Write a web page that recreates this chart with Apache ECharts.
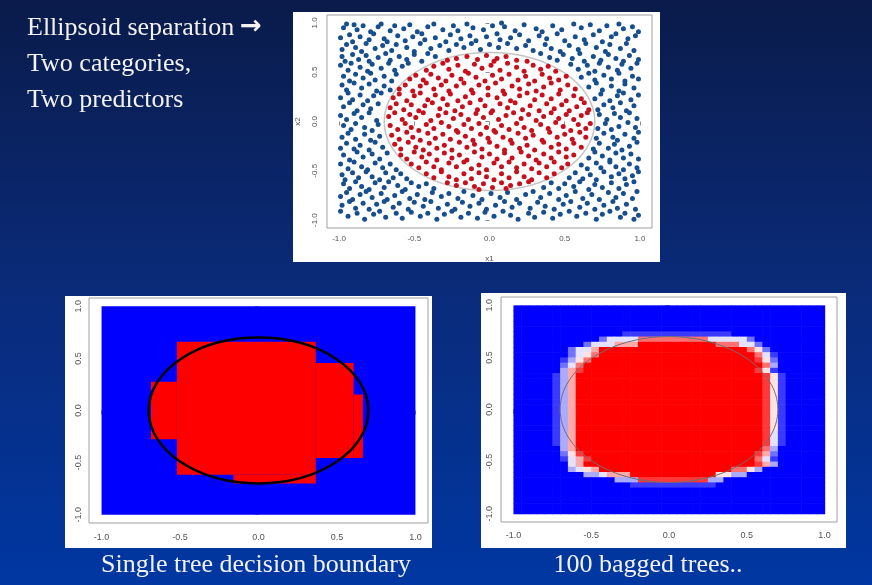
<!DOCTYPE html>
<html>
<head>
<meta charset="utf-8">
<script src="https://cdn.jsdelivr.net/npm/echarts@6/dist/echarts.min.js"></script>
<style>
html, body { margin: 0; padding: 0; background: #0a2a78; }
#chart { width: 872px; height: 585px; }
</style>
</head>
<body>
<div id="chart"></div>
<script>
// tick labels shared by all three panels
const tickValues = [-1, -0.5, 0, 0.5, 1];

// scatter: points outside the ellipse (blue) and inside (red)
const blueDots = [
  [-0.97,0.95],[-0.95,0.99],[-0.90,0.98],[-0.88,0.93],[-0.84,0.97],[-0.79,0.91],[-0.74,0.96],[-0.72,0.99],[-0.66,0.92],[-0.63,0.97],
  [-0.57,0.94],[-0.53,0.98],[-0.48,0.91],[-0.41,0.96],[-0.37,0.99],[-0.31,0.93],[-0.24,0.97],[-0.21,0.92],[-0.15,0.99],[-0.11,0.95],
  [-0.04,0.93],[0.02,0.97],[0.08,1.0],[0.10,0.96],[0.17,0.92],[0.23,0.98],[0.31,0.94],[0.35,0.91],[0.42,0.97],[0.48,0.93],
  [0.56,0.99],[0.61,0.95],[0.67,0.98],[0.73,0.92],[0.78,0.97],[0.86,0.99],[0.89,0.94],[0.95,0.96],[0.99,0.91],
  [-0.99,0.85],[-0.93,0.88],[-0.91,0.81],[-0.86,0.86],[-0.80,0.83],[-0.77,0.89],[-0.70,0.84],[-0.68,0.81],[-0.61,0.87],[-0.56,0.82],
  [-0.51,0.86],[-0.45,0.89],[-0.43,0.83],[-0.36,0.85],[-0.29,0.81],[-0.26,0.88],[-0.19,0.84],[-0.13,0.87],[-0.09,0.82],[-0.02,0.86],
  [0.05,0.89],[0.07,0.83],[0.14,0.85],[0.20,0.88],[0.26,0.82],[0.33,0.87],[0.38,0.84],[0.45,0.89],[0.50,0.82],[0.57,0.86],
  [0.63,0.83],[0.69,0.88],[0.75,0.81],[0.81,0.86],[0.84,0.89],[0.92,0.84],[0.97,0.87],
  [-0.98,0.73],[-0.95,0.78],[-0.89,0.75],[-0.85,0.71],[-0.82,0.79],[-0.76,0.74],[-0.71,0.77],[-0.65,0.72],[-0.62,0.78],[-0.55,0.75],
  [-0.50,0.71],[-0.46,0.79],[-0.39,0.74],[-0.33,0.77],[-0.27,0.72],[-0.22,0.78],[-0.17,0.75],[-0.12,0.79],[-0.06,0.73],[0.0,0.78],
  [0.06,0.75],[0.12,0.79],[0.18,0.74],[0.24,0.77],[0.29,0.72],[0.37,0.78],[0.41,0.74],[0.47,0.71],[0.53,0.77],[0.59,0.73],
  [0.64,0.79],[0.71,0.75],[0.77,0.71],[0.80,0.78],[0.87,0.74],[0.91,0.79],[0.96,0.72],
  [-0.98,0.66],[-0.96,0.61],[-0.91,0.68],[-0.87,0.63],[-0.82,0.67],[-0.80,0.61],[-0.74,0.65],[-0.69,0.69],[-0.66,0.62],[-0.60,0.66],
  [-0.55,0.63],[-0.50,0.68],[-0.45,0.61],[-0.41,0.69],[-0.36,0.66],[0.34,0.69],[0.40,0.65],[0.45,0.62],[0.49,0.68],[0.55,0.64],
  [0.60,0.69],[0.63,0.61],[0.69,0.66],[0.74,0.62],[0.79,0.68],[0.84,0.64],[0.89,0.61],[0.93,0.67],[0.99,0.63],
  [-0.99,0.57],[-0.94,0.52],[-0.92,0.59],[-0.86,0.55],[-0.81,0.51],[-0.78,0.58],[-0.72,0.54],[-0.67,0.59],[-0.63,0.52],[-0.58,0.56],
  [-0.54,0.59],[0.54,0.58],[0.59,0.53],[0.65,0.57],[0.70,0.51],[0.73,0.59],[0.79,0.55],[0.85,0.52],[0.88,0.58],[0.94,0.54],[0.98,0.59],
  [-0.97,0.46],[-0.93,0.41],[-0.89,0.48],[-0.84,0.44],[-0.79,0.49],[-0.76,0.42],[-0.70,0.46],[-0.65,0.41],[-0.62,0.48],[0.61,0.45],
  [0.66,0.49],[0.70,0.42],[0.76,0.47],[0.81,0.43],[0.86,0.49],[0.90,0.41],[0.95,0.46],[0.99,0.43],
  [-0.98,0.37],[-0.95,0.32],[-0.90,0.39],[-0.85,0.34],[-0.80,0.38],[-0.75,0.31],[-0.70,0.36],[-0.66,0.32],[0.66,0.35],[0.71,0.39],
  [0.75,0.32],[0.81,0.36],[0.86,0.31],[0.90,0.38],[0.96,0.34],
  [-0.99,0.24],[-0.94,0.29],[-0.91,0.22],[-0.86,0.27],[-0.81,0.21],[-0.77,0.26],[-0.72,0.29],[0.70,0.23],[0.74,0.28],[0.80,0.21],
  [0.85,0.26],[0.89,0.29],[0.94,0.22],[0.99,0.27],
  [-0.97,0.15],[-0.93,0.19],[-0.88,0.11],[-0.84,0.17],[-0.79,0.13],[-0.74,0.18],[0.72,0.12],[0.76,0.17],[0.82,0.14],[0.87,0.19],
  [0.91,0.11],[0.96,0.16],
  [-0.99,0.06],[-0.95,0.02],[-0.90,0.08],[-0.85,0.04],[-0.80,0.09],[-0.75,0.01],[0.73,0.07],[0.78,0.02],[0.83,0.08],[0.87,0.04],
  [0.93,0.09],[0.98,0.03],
  [-0.97,-0.04],[-0.92,-0.08],[-0.89,-0.02],[-0.83,-0.06],[-0.78,-0.09],[-0.74,-0.03],[0.72,-0.07],[0.77,-0.02],[0.81,-0.08],[0.86,-0.05],
  [0.92,-0.01],[0.97,-0.06],
  [-0.98,-0.16],[-0.94,-0.12],[-0.89,-0.18],[-0.83,-0.13],[-0.79,-0.19],[-0.73,-0.15],[0.71,-0.17],[0.76,-0.12],[0.82,-0.16],[0.85,-0.19],
  [0.90,-0.13],[0.96,-0.17],[0.99,-0.11],
  [-0.99,-0.27],[-0.95,-0.22],[-0.90,-0.28],[-0.86,-0.24],[-0.80,-0.29],[-0.76,-0.21],[-0.71,-0.26],[0.69,-0.28],[0.73,-0.22],[0.79,-0.27],
  [0.83,-0.23],[0.88,-0.29],[0.93,-0.25],[0.98,-0.21],
  [-0.97,-0.34],[-0.93,-0.39],[-0.88,-0.31],[-0.84,-0.36],[-0.78,-0.33],[-0.73,-0.38],[-0.68,-0.32],[0.66,-0.37],[0.70,-0.31],[0.75,-0.35],
  [0.80,-0.39],[0.84,-0.32],[0.89,-0.37],[0.94,-0.33],[0.99,-0.38],
  [-0.99,-0.43],[-0.94,-0.48],[-0.90,-0.41],[-0.85,-0.46],[-0.81,-0.49],[-0.76,-0.42],[-0.71,-0.47],[-0.66,-0.43],[-0.62,-0.49],[0.61,-0.44],
  [0.65,-0.48],[0.71,-0.42],[0.74,-0.47],[0.80,-0.41],[0.84,-0.46],[0.89,-0.49],[0.93,-0.43],[0.98,-0.47],
  [-0.98,-0.54],[-0.96,-0.59],[-0.91,-0.52],[-0.87,-0.57],[-0.82,-0.51],[-0.78,-0.56],[-0.73,-0.59],[-0.69,-0.52],[-0.64,-0.57],[-0.59,-0.53],
  [-0.55,-0.58],[0.53,-0.57],[0.57,-0.52],[0.62,-0.58],[0.67,-0.54],[0.71,-0.59],[0.76,-0.51],[0.81,-0.56],[0.86,-0.53],[0.90,-0.58],
  [0.95,-0.55],[0.99,-0.51],
  [-0.97,-0.63],[-0.93,-0.68],[-0.89,-0.61],[-0.85,-0.66],[-0.80,-0.69],[-0.76,-0.62],[-0.70,-0.67],[-0.67,-0.61],[-0.61,-0.65],[-0.56,-0.69],
  [-0.52,-0.62],[-0.47,-0.66],[-0.42,-0.63],[-0.37,-0.68],[0.36,-0.67],[0.41,-0.62],[0.46,-0.68],[0.50,-0.63],[0.56,-0.66],[0.60,-0.61],
  [0.66,-0.69],[0.70,-0.64],[0.75,-0.67],[0.81,-0.62],[0.86,-0.68],[0.91,-0.64],[0.96,-0.61],
  [-0.99,-0.76],[-0.95,-0.72],[-0.91,-0.79],[-0.86,-0.74],[-0.82,-0.71],[-0.78,-0.77],[-0.72,-0.73],[-0.68,-0.79],[-0.63,-0.75],[-0.58,-0.71],
  [-0.53,-0.78],[-0.48,-0.74],[-0.43,-0.79],[-0.38,-0.72],[-0.32,-0.76],[-0.27,-0.73],[-0.21,-0.78],[-0.17,-0.71],[-0.11,-0.75],[-0.05,-0.79],
  [0.01,-0.73],[0.07,-0.77],[0.12,-0.72],[0.18,-0.79],[0.24,-0.74],[0.29,-0.71],[0.34,-0.77],[0.40,-0.73],[0.46,-0.79],[0.51,-0.75],
  [0.57,-0.71],[0.62,-0.78],[0.68,-0.74],[0.73,-0.79],[0.79,-0.72],[0.84,-0.77],[0.89,-0.73],[0.95,-0.78],[0.98,-0.71],
  [-0.98,-0.85],[-0.93,-0.81],[-0.89,-0.88],[-0.84,-0.83],[-0.80,-0.89],[-0.75,-0.84],[-0.70,-0.81],[-0.64,-0.87],[-0.60,-0.83],[-0.54,-0.89],
  [-0.50,-0.82],[-0.44,-0.86],[-0.39,-0.81],[-0.34,-0.88],[-0.28,-0.84],[-0.23,-0.89],[-0.18,-0.82],[-0.13,-0.86],[-0.07,-0.83],[-0.02,-0.89],
  [0.04,-0.85],[0.10,-0.81],[0.15,-0.87],[0.20,-0.83],[0.27,-0.88],[0.32,-0.82],[0.37,-0.86],[0.43,-0.89],[0.49,-0.84],[0.54,-0.81],
  [0.60,-0.87],[0.65,-0.83],[0.70,-0.89],[0.76,-0.85],[0.82,-0.81],[0.85,-0.88],[0.91,-0.84],[0.97,-0.89],
  [-0.99,-0.91],[-0.94,-0.96],[-0.88,-0.93],[-0.83,-0.99],[-0.77,-0.94],[-0.73,-0.91],[-0.69,-0.97],[-0.62,-0.93],[-0.58,-0.98],[-0.52,-0.92],
  [-0.46,-0.96],[-0.41,-0.93],[-0.35,-0.99],[-0.30,-0.94],[-0.25,-0.91],[-0.19,-0.97],[-0.14,-0.93],[-0.08,-0.98],[-0.03,-0.92],[0.03,-0.96],
  [0.09,-0.91],[0.14,-0.95],[0.19,-0.99],[0.26,-0.93],[0.30,-0.97],[0.36,-0.92],[0.42,-0.98],[0.47,-0.94],[0.53,-0.91],[0.58,-0.96],
  [0.64,-0.93],[0.71,-0.99],[0.75,-0.94],[0.80,-0.91],[0.87,-0.97],[0.90,-0.93],[0.96,-0.99],[0.99,-0.95]
];
const redDots = [
  [-0.28,0.62],[-0.22,0.64],[-0.15,0.66],[-0.08,0.63],[-0.02,0.67],[0.05,0.64],[0.11,0.66],[0.18,0.62],[0.25,0.61],[0.03,0.61],
  [-0.42,0.52],[-0.37,0.56],[-0.31,0.59],[-0.27,0.53],[-0.21,0.57],[-0.16,0.51],[-0.10,0.58],[-0.05,0.54],[0.01,0.57],[0.07,0.52],
  [0.12,0.59],[0.18,0.55],[0.23,0.51],[0.29,0.57],[0.34,0.53],[0.39,0.56],[0.44,0.51],
  [-0.53,0.43],[-0.49,0.47],[-0.44,0.42],[-0.39,0.48],[-0.34,0.44],[-0.29,0.41],[-0.25,0.47],[-0.19,0.43],[-0.14,0.49],[-0.09,0.45],
  [-0.03,0.41],[0.02,0.47],[0.08,0.43],[0.13,0.48],[0.19,0.42],[0.24,0.46],[0.30,0.41],[0.35,0.48],[0.40,0.44],[0.46,0.42],[0.51,0.46],
  [-0.60,0.33],[-0.56,0.37],[-0.51,0.31],[-0.46,0.36],[-0.42,0.39],[-0.37,0.33],[-0.32,0.37],[-0.27,0.31],[-0.22,0.36],[-0.17,0.39],
  [-0.12,0.32],[-0.07,0.37],[-0.01,0.34],[0.04,0.39],[0.09,0.31],[0.15,0.36],[0.20,0.33],[0.26,0.38],[0.31,0.31],[0.36,0.35],
  [0.41,0.39],[0.47,0.32],[0.52,0.37],[0.57,0.33],
  [-0.64,0.24],[-0.60,0.28],[-0.55,0.21],[-0.50,0.26],[-0.46,0.29],[-0.41,0.22],[-0.36,0.27],[-0.31,0.23],[-0.26,0.28],[-0.21,0.21],
  [-0.16,0.25],[-0.11,0.29],[-0.06,0.22],[-0.01,0.27],[0.05,0.24],[0.10,0.28],[0.14,0.21],[0.20,0.26],[0.25,0.29],[0.30,0.22],
  [0.35,0.27],[0.41,0.23],[0.46,0.28],[0.51,0.21],[0.56,0.26],[0.61,0.23],
  [-0.66,0.14],[-0.62,0.18],[-0.57,0.12],[-0.52,0.17],[-0.47,0.11],[-0.43,0.16],[-0.38,0.19],[-0.33,0.13],[-0.28,0.17],[-0.23,0.11],
  [-0.18,0.15],[-0.13,0.19],[-0.08,0.12],[-0.03,0.16],[0.02,0.11],[0.07,0.18],[0.12,0.14],[0.17,0.19],[0.22,0.12],[0.27,0.16],
  [0.33,0.11],[0.38,0.18],[0.43,0.13],[0.48,0.17],[0.53,0.11],[0.58,0.15],[0.63,0.19],[0.66,0.12],
  [-0.67,0.05],[-0.63,0.09],[-0.58,0.02],[-0.53,0.07],[-0.49,0.04],[-0.44,0.09],[-0.39,0.01],[-0.34,0.06],[-0.29,0.09],[-0.24,0.03],
  [-0.19,0.07],[-0.14,0.02],[-0.09,0.08],[-0.04,0.04],[0.01,0.09],[0.06,0.02],[0.11,0.06],[0.16,0.09],[0.21,0.03],[0.26,0.07],
  [0.31,0.01],[0.36,0.05],[0.41,0.09],[0.46,0.03],[0.51,0.07],[0.56,0.02],[0.61,0.06],[0.65,0.09],
  [-0.66,-0.04],[-0.61,-0.08],[-0.56,-0.02],[-0.52,-0.06],[-0.47,-0.09],[-0.42,-0.03],[-0.37,-0.07],[-0.32,-0.01],[-0.27,-0.05],[-0.22,-0.09],
  [-0.17,-0.03],[-0.12,-0.07],[-0.07,-0.02],[-0.02,-0.06],[0.03,-0.09],[0.08,-0.04],[0.13,-0.08],[0.18,-0.02],[0.23,-0.06],[0.28,-0.09],
  [0.34,-0.03],[0.39,-0.07],[0.44,-0.01],[0.49,-0.05],[0.54,-0.09],[0.59,-0.03],[0.64,-0.07],[0.67,-0.02],
  [-0.65,-0.14],[-0.60,-0.18],[-0.55,-0.11],[-0.51,-0.16],[-0.46,-0.19],[-0.41,-0.12],[-0.36,-0.17],[-0.31,-0.13],[-0.26,-0.18],[-0.21,-0.11],
  [-0.16,-0.15],[-0.11,-0.19],[-0.06,-0.13],[-0.01,-0.17],[0.04,-0.11],[0.09,-0.16],[0.14,-0.19],[0.19,-0.12],[0.24,-0.17],[0.29,-0.14],
  [0.35,-0.19],[0.40,-0.11],[0.45,-0.16],[0.50,-0.13],[0.55,-0.18],[0.60,-0.11],[0.64,-0.16],
  [-0.63,-0.23],[-0.59,-0.28],[-0.54,-0.21],[-0.49,-0.26],[-0.44,-0.29],[-0.40,-0.22],[-0.35,-0.27],[-0.30,-0.24],[-0.25,-0.29],[-0.20,-0.21],
  [-0.15,-0.26],[-0.10,-0.23],[-0.05,-0.28],[0.0,-0.21],[0.05,-0.25],[0.10,-0.29],[0.15,-0.22],[0.20,-0.27],[0.25,-0.24],[0.30,-0.29],
  [0.36,-0.21],[0.41,-0.26],[0.46,-0.23],[0.51,-0.28],[0.56,-0.22],[0.61,-0.26],
  [-0.59,-0.34],[-0.55,-0.38],[-0.50,-0.31],[-0.45,-0.36],[-0.40,-0.33],[-0.35,-0.39],[-0.30,-0.32],[-0.25,-0.37],[-0.20,-0.34],[-0.15,-0.39],
  [-0.10,-0.31],[-0.05,-0.36],[0.0,-0.33],[0.05,-0.38],[0.10,-0.32],[0.15,-0.37],[0.21,-0.31],[0.26,-0.35],[0.31,-0.39],[0.36,-0.33],
  [0.41,-0.37],[0.46,-0.31],[0.51,-0.36],[0.56,-0.34],
  [-0.52,-0.43],[-0.47,-0.47],[-0.42,-0.41],[-0.37,-0.46],[-0.32,-0.49],[-0.27,-0.42],[-0.22,-0.46],[-0.17,-0.41],[-0.12,-0.48],[-0.07,-0.44],
  [-0.02,-0.49],[0.03,-0.42],[0.08,-0.46],[0.13,-0.41],[0.18,-0.47],[0.23,-0.43],[0.28,-0.48],[0.33,-0.42],[0.38,-0.46],[0.43,-0.41],
  [0.48,-0.47],[0.52,-0.43],
  [-0.42,-0.53],[-0.37,-0.57],[-0.32,-0.51],[-0.27,-0.56],[-0.22,-0.59],[-0.17,-0.53],[-0.12,-0.58],[-0.07,-0.52],[-0.02,-0.56],[0.03,-0.59],
  [0.08,-0.53],[0.13,-0.57],[0.18,-0.51],[0.23,-0.56],[0.28,-0.59],[0.33,-0.52],[0.38,-0.57],[0.43,-0.53],
  [-0.28,-0.62],[-0.22,-0.65],[-0.16,-0.62],[-0.10,-0.66],[-0.04,-0.63],[0.02,-0.67],[0.08,-0.62],[0.14,-0.65],[0.20,-0.63],[0.26,-0.61],
  [-0.07,-0.69],[0.11,-0.68]
];

// true class boundary: centre x, centre y, radius
const trueBoundary = [[0, 0, 0.7]];

// single tree: red leaf rectangles [x0, x1, y0, y1]
const treeAll = [[-1, 1, -1, 1]];
const treeRed = [
  [-0.52, 0.365, -0.617, 0.66],
  [-0.16, 0.365, -0.70, -0.617],
  [-0.685, -0.52, -0.276, 0.276],
  [0.365, 0.606, -0.455, 0.455],
  [0.606, 0.665, -0.455, 0.153]
];

// 100 bagged trees: red share per 0.05 cell, 0 = blue .. 9 = red, top row first
const bagStep = 0.05;
const bagRows = [
  "0000000000000000000000000000000000000000",
  "0000000000000000000000000000000000000000",
  "0000000000000000000000000000000000000000",
  "0000000000000000000000000000000000000000",
  "0000000000000000000000000000000000000000",
  "0000000000000011111111111111000000000000",
  "0000000000024444777777777444442000000000",
  "0000000002444666999999999977744200000000",
  "0000000244699999999999999999997520000000",
  "0000000245799999999999999999999741000000",
  "0000001357999999999999999999999852000000",
  "0000002479999999999999999999999973000000",
  "0000003689999999999999999999999851000000",
  "0000013699999999999999999999999985100000",
  "0000013699999999999999999999999985100000",
  "0000013699999999999999999999999985100000",
  "0000013699999999999999999999999985100000",
  "0000013699999999999999999999999985100000",
  "0000013699999999999999999999999985100000",
  "0000013699999999999999999999999985100000",
  "0000013699999999999999999999999985100000",
  "0000013699999999999999999999999985100000",
  "0000013699999999999999999999999985100000",
  "0000013699999999999999999999999985100000",
  "0000013699999999999999999999999984100000",
  "0000013699999999999999999999999984100000",
  "0000013699999999999999999999999984100000",
  "0000003699999999999999999999999973000000",
  "0000002589999999999999999999999862000000",
  "0000001468999999999999999999999741000000",
  "0000000469999999999999999999999863000000",
  "0000000345699999999999999999775300000000",
  "0000000003346669999999999955330000000000",
  "0000000000000333888888888330000000000000",
  "0000000000000001111111111100000000000000",
  "0000000000000000000000000000000000000000",
  "0000000000000000000000000000000000000000",
  "0000000000000000000000000000000000000000",
  "0000000000000000000000000000000000000000",
  "0000000000000000000000000000000000000000"
];
const bagCells = [];
bagRows.forEach((row, r) => {
  for (let c = 0; c < row.length; c++) {
    bagCells.push([-1 + bagStep / 2 + c * bagStep, 1 - bagStep / 2 - r * bagStep, +row[c]]);
  }
});

const chart = echarts.init(document.getElementById("chart"));

function xAxisOf(gi, fs, margin, name) {
  return {
    type: "value", gridIndex: gi, min: -1.08, max: 1.08,
    axisLine: { show: false },
    axisTick: { show: true, customValues: tickValues, length: 4, lineStyle: { color: "#8c8c8c" } },
    axisLabel: { customValues: tickValues, formatter: v => v.toFixed(1), fontSize: fs, color: "#555", fontFamily: "Liberation Sans", margin: margin },
    splitLine: { show: false },
    name: name, nameLocation: "middle", nameGap: 27,
    nameTextStyle: { fontSize: 8, color: "#555", fontFamily: "Liberation Sans" }
  };
}
function yAxisOf(gi, fs, margin, name) {
  const a = xAxisOf(gi, fs, margin, name);
  a.axisLabel.rotate = 90;
  a.nameRotate = 90;
  a.nameGap = 25;
  return a;
}

// rectangles from [x0, x1, y0, y1]
function boxItem(color) {
  return function (params, api) {
    const p0 = api.coord([api.value(0), api.value(3)]);
    const p1 = api.coord([api.value(1), api.value(2)]);
    return { type: "rect", shape: { x: p0[0], y: p0[1], width: p1[0] - p0[0], height: p1[1] - p0[1] }, style: { fill: color } };
  };
}
function ellipseItem(color, width) {
  return function (params, api) {
    const c = api.coord([api.value(0), api.value(1)]);
    const s = api.size([api.value(2), api.value(2)]);
    return { type: "ellipse", shape: { cx: c[0], cy: c[1], rx: s[0], ry: s[1] }, style: { fill: null, stroke: color, lineWidth: width } };
  };
}
function cellItem(params, api) {
  const c = api.coord([api.value(0), api.value(1)]);
  const s = api.size([bagStep, bagStep]);
  return { type: "rect", shape: { x: c[0] - s[0] / 2, y: c[1] - s[1] / 2, width: s[0] + 0.6, height: s[1] + 0.6 }, style: { fill: api.visual("color") } };
}

const serif = "Liberation Serif";
const ink = "#f2f2f2";
const option = {
  animation: false,
  graphic: [
    { type: "rect", z: -30, shape: { x: 0, y: 0, width: 872, height: 585 },
      style: { fill: { type: "linear", x: 0, y: 0, x2: 0, y2: 1, colorStops: [
        { offset: 0, color: "#0a1b4a" }, { offset: 0.5, color: "#0a2b7a" }, { offset: 1, color: "#0037a2" }] } } },
    { type: "rect", z: -20, shape: { x: 293, y: 12, width: 367, height: 250 }, style: { fill: "#fff" } },
    { type: "rect", z: -20, shape: { x: 65, y: 296, width: 367, height: 252 }, style: { fill: "#fff" } },
    { type: "rect", z: -20, shape: { x: 481, y: 293, width: 365, height: 255 }, style: { fill: "#fff" } },
    { type: "text", style: { text: "Ellipsoid separation", x: 27, y: 28, fill: ink, fontSize: 26, fontFamily: serif, textVerticalAlign: "middle" } },
    { type: "text", style: { text: "\u2192", x: 240, y: 27, fill: ink, fontSize: 26, fontWeight: "bold", fontFamily: "DejaVu Sans", textVerticalAlign: "middle" } },
    { type: "text", style: { text: "Two categories,", x: 27, y: 64, fill: ink, fontSize: 26, fontFamily: serif, textVerticalAlign: "middle" } },
    { type: "text", style: { text: "Two predictors", x: 27, y: 100, fill: ink, fontSize: 26, fontFamily: serif, textVerticalAlign: "middle" } },
    { type: "text", style: { text: "Single tree decision boundary", x: 256, y: 565, fill: ink, fontSize: 26, fontFamily: serif, textAlign: "center", textVerticalAlign: "middle" } },
    { type: "text", style: { text: "100 bagged trees..", x: 648, y: 565, fill: ink, fontSize: 26, fontFamily: serif, textAlign: "center", textVerticalAlign: "middle" } }
  ],
  grid: [
    { left: 327, top: 15, width: 325, height: 213, show: true, borderColor: "#a0a0a0", borderWidth: 1 },
    { left: 89, top: 298, width: 339, height: 225, show: true, borderColor: "#a0a0a0", borderWidth: 1 },
    { left: 501, top: 297, width: 336, height: 225, show: true, borderColor: "#a0a0a0", borderWidth: 1 }
  ],
  xAxis: [xAxisOf(0, 8, 7, "x1"), xAxisOf(1, 9, 10, ""), xAxisOf(2, 9, 9, "")],
  yAxis: [yAxisOf(0, 8, 8, "x2"), yAxisOf(1, 9, 6, ""), yAxisOf(2, 9, 7, "")],
  visualMap: {
    type: "continuous", show: false, seriesIndex: 6, dimension: 2, min: 0, max: 9,
    inRange: { color: ["#0000ff", "#ffffff", "#ff0000"] }
  },
  series: [
    { type: "scatter", xAxisIndex: 0, yAxisIndex: 0, data: blueDots, symbolSize: 5, itemStyle: { color: "#174f8e", opacity: 1 } },
    { type: "scatter", xAxisIndex: 0, yAxisIndex: 0, data: redDots, symbolSize: 5, itemStyle: { color: "#c8101c", opacity: 1 } },
    { type: "custom", xAxisIndex: 0, yAxisIndex: 0, data: trueBoundary, renderItem: ellipseItem("#c4c4c4", 1.5), z: 1 },
    { type: "custom", xAxisIndex: 1, yAxisIndex: 1, data: treeAll, renderItem: boxItem("#0000ff") },
    { type: "custom", xAxisIndex: 1, yAxisIndex: 1, data: treeRed, renderItem: boxItem("#ff0000") },
    { type: "custom", xAxisIndex: 1, yAxisIndex: 1, data: trueBoundary, renderItem: ellipseItem("#000000", 2.5) },
    { type: "custom", xAxisIndex: 2, yAxisIndex: 2, data: bagCells, renderItem: cellItem },
    { type: "custom", xAxisIndex: 2, yAxisIndex: 2, data: trueBoundary, renderItem: ellipseItem("#707070", 1) }
  ]
};
chart.setOption(option);
</script>
</body>
</html>
